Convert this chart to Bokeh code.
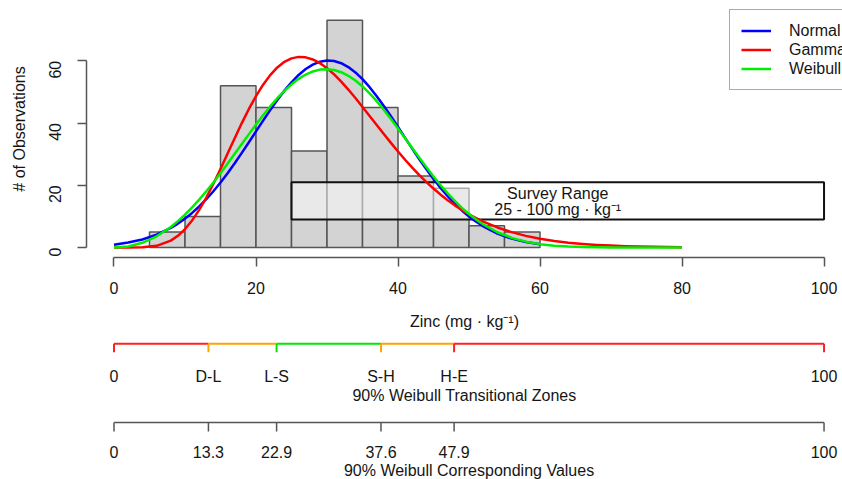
import math
from bokeh.plotting import figure
from bokeh.models import Range1d, FixedTicker, Legend, LegendItem
from bokeh.layouts import column
from bokeh.embed import file_html
from bokeh.resources import INLINE
from bokeh.core.properties import value

# ---------------- data ----------------
bin_edges = [5, 10, 15, 20, 25, 30, 35, 40, 45, 50, 55, 60]
counts = [5, 10, 52, 45, 31, 73, 45, 23, 19, 7, 5]

normal_x = [0, 2, 4, 6, 8, 9, 10, 11, 12, 13, 14, 15, 16, 17, 18, 19, 20,
            21, 22, 23, 24, 25, 26, 27, 28, 29, 30, 31, 32, 33, 34, 35, 36,
            37, 38, 39, 40, 41, 42, 43, 44, 45, 46, 47, 48, 49, 50, 51, 52,
            54, 56, 58, 60]
normal_y = [0.92, 1.58, 2.59, 4.12, 6.29, 7.68, 9.28, 11.11, 13.19, 15.51,
            18.07, 20.87, 23.88, 27.06, 30.40, 33.84, 37.32, 40.79, 44.17,
            47.40, 50.40, 53.10, 55.44, 57.35, 58.78, 59.70, 60.09, 59.92,
            59.22, 57.98, 56.25, 54.08, 51.52, 48.63, 45.48, 42.15, 38.72,
            35.23, 31.77, 28.38, 25.13, 22.05, 19.16, 16.50, 14.09, 11.91,
            9.98, 8.29, 6.82, 4.49, 2.85, 1.75, 1.03]

curve_x = [0, 2, 4, 6, 8, 9, 10, 11, 12, 13, 14, 15, 16, 17, 18, 19, 20,
           21, 22, 23, 24, 25, 26, 27, 28, 29, 30, 31, 32, 33, 34, 35, 36,
           37, 38, 39, 40, 41, 42, 43, 44, 45, 46, 47, 48, 49, 50, 51, 52,
           54, 56, 58, 60, 62, 64, 66, 68, 70, 72, 74, 76, 78, 80]
gamma_y = [0.0, 0.0, 0.06, 0.53, 2.20, 3.76, 5.92, 8.70, 12.10, 16.06,
           20.49, 25.25, 30.18, 35.13, 39.98, 44.52, 48.67, 52.33, 55.39,
           57.86, 59.66, 60.78, 61.25, 61.11, 60.43, 59.25, 57.62, 55.62,
           53.29, 50.75, 48.05, 45.17, 42.28, 39.35, 36.46, 33.62, 30.85,
           28.20, 25.67, 23.27, 21.02, 18.94, 16.98, 15.19, 13.55, 12.05,
           10.68, 9.45, 8.33, 6.44, 4.93, 3.73, 2.81, 2.10, 1.56, 1.15, 0.84,
           0.61, 0.44, 0.32, 0.23, 0.16, 0.12]
weibull_y = [0.0, 0.34, 1.51, 3.59, 6.61, 8.48, 10.57, 12.88, 15.38, 18.07,
             20.91, 23.89, 26.97, 30.11, 33.27, 36.43, 39.52, 42.50, 45.33,
             47.97, 50.34, 52.43, 54.19, 55.58, 56.58, 57.16, 57.31, 57.04,
             56.32, 55.18, 53.64, 51.76, 49.53, 47.01, 44.26, 41.31, 38.25,
             35.11, 31.95, 28.82, 25.76, 22.80, 20.01, 17.39, 14.96, 12.75,
             10.75, 8.98, 7.42, 4.90, 3.10, 1.88, 1.08, 0.59, 0.31, 0.15,
             0.07, 0.03, 0.01, 0.01, 0.0, 0.0, 0.0]

series_names = ["Normal", "Gamma", "Weibull"]

survey_low, survey_high = 25, 100
survey_band = (9, 21)
survey_text = ["Survey Range", "25 - 100 mg \u00b7 kg\u207b\u00b9"]

x_ticks = [0, 20, 40, 60, 80, 100]
y_ticks = [0, 20, 40, 60]

zone_breaks = [0, 13.3, 22.9, 37.6, 47.9, 100]
zone_labels = ["0", "D-L", "L-S", "S-H", "H-E", "100"]
zone_value_labels = ["0", "13.3", "22.9", "37.6", "47.9", "100"]

x_title = "Zinc (mg \u00b7 kg\u207b\u00b9)"
y_title = "# of Observations"
zones_title = "90% Weibull Transitional Zones"
values_title = "90% Weibull Corresponding Values"

# ---------------- styles ----------------
FONT = "Liberation Sans"
FS = "16px"
TXT = "#151515"
AXC = "#555555"
zone_colors = ["#FF2020", "#FFA500", "#00E600", "#FFA500", "#FF2020"]
tick_colors = zone_colors + [zone_colors[-1]]
curve_colors = ["#0000FF", "#FF0000", "#00EE00"]

xr = Range1d(-3.873, 102.6)


def style_axis(ax):
    ax.axis_line_color = AXC
    ax.axis_line_width = 1.5
    ax.major_tick_line_color = AXC
    ax.major_tick_line_width = 1.5
    ax.minor_tick_line_color = None
    ax.major_label_text_font = FONT
    ax.major_label_text_font_size = FS
    ax.major_label_text_color = TXT
    ax.axis_label_text_font = FONT
    ax.axis_label_text_font_size = FS
    ax.axis_label_text_font_style = "normal"
    ax.axis_label_text_color = TXT


# ---------------- main histogram figure ----------------
p1 = figure(width=842, height=340, x_range=xr, y_range=Range1d(-3.213, 79.37),
            output_backend="svg", toolbar_location=None,
            min_border=0, min_border_left=86, min_border_bottom=83,
            min_border_top=0, min_border_right=0, outline_line_color=None)
p1.grid.visible = False

p1.quad(left=bin_edges[:-1], right=bin_edges[1:], bottom=0, top=counts,
        fill_color="#D3D3D3", line_color=AXC, line_width=1.5)

p1.quad(left=[survey_low], right=[survey_high], bottom=[survey_band[0]],
        top=[survey_band[1]], fill_color="white", fill_alpha=0.5,
        line_color="#111111", line_width=2)

mid = (survey_low + survey_high) / 2
p1.text(x=[mid, mid], y=[17.3, 12.1], text=survey_text, text_align="center",
        text_baseline="middle", text_font=value(FONT), text_font_size=FS,
        text_color=TXT)

rn = p1.line(normal_x, normal_y, line_color=curve_colors[0], line_width=2.5,
             line_join="round")
rg = p1.line(curve_x, gamma_y, line_color=curve_colors[1], line_width=2.5,
             line_join="round")
rw = p1.line(curve_x, weibull_y, line_color=curve_colors[2], line_width=2.5,
             line_join="round")

xa = p1.xaxis[0]
style_axis(xa)
xa.bounds = (0, 100)
xa.ticker = FixedTicker(ticks=x_ticks)
xa.major_tick_out = 9
xa.major_tick_in = 0
xa.major_label_standoff = 15
xa.axis_label = x_title
xa.axis_label_standoff = 16

ya = p1.yaxis[0]
style_axis(ya)
ya.bounds = (0, 60)
ya.ticker = FixedTicker(ticks=y_ticks)
ya.major_tick_out = 9
ya.major_tick_in = 0
ya.major_label_standoff = 22
ya.major_label_orientation = math.pi / 2
ya.axis_label = y_title
ya.axis_label_standoff = 13

legend = Legend(items=[LegendItem(label=series_names[0], renderers=[rn]),
                       LegendItem(label=series_names[1], renderers=[rg]),
                       LegendItem(label=series_names[2], renderers=[rw])],
                location=(643, 167), orientation="vertical",
                label_text_font=FONT, label_text_font_size=FS,
                label_text_color=TXT, border_line_color=AXC,
                border_line_width=1.5, background_fill_color="white",
                background_fill_alpha=1.0, glyph_width=30, glyph_height=19,
                label_height=19, label_standoff=18, padding=11, spacing=0,
                margin=0)
p1.add_layout(legend)

# ---------------- transitional zones axis ----------------
p2 = figure(width=842, height=66, x_range=xr, y_range=Range1d(0, 13),
            output_backend="svg", toolbar_location=None, y_axis_type=None,
            min_border=0, min_border_left=86, min_border_bottom=53,
            min_border_top=0, min_border_right=0, outline_line_color=None)
p2.grid.visible = False
p2.segment(x0=zone_breaks[:-1], y0=9.5, x1=zone_breaks[1:], y1=9.5,
           line_color=zone_colors, line_width=2)
p2.segment(x0=zone_breaks, y0=9.5, x1=zone_breaks, y1=0,
           line_color=tick_colors, line_width=2)
xa2 = p2.xaxis[0]
style_axis(xa2)
xa2.axis_line_color = None
xa2.major_tick_line_color = None
xa2.major_tick_out = 0
xa2.major_tick_in = 0
xa2.ticker = FixedTicker(ticks=zone_breaks)
xa2.major_label_overrides = {b: l for b, l in zip(zone_breaks, zone_labels)}
xa2.major_label_standoff = 15
xa2.axis_label = zones_title
xa2.axis_label_standoff = -1

# ---------------- corresponding values axis ----------------
# frame covers the whole strip (pixel rows 406..479); y = 479 - pixel row
p3 = figure(width=842, height=73, x_range=xr, y_range=Range1d(0, 73),
            output_backend="svg", toolbar_location=None,
            x_axis_type=None, y_axis_type=None,
            min_border=0, min_border_left=86, min_border_bottom=0,
            min_border_top=0, min_border_right=0, outline_line_color=None)
p3.grid.visible = False
p3.segment(x0=[zone_breaks[0]], y0=57, x1=[zone_breaks[-1]], y1=57,
           line_color=AXC, line_width=1.5)
p3.segment(x0=zone_breaks, y0=57, x1=zone_breaks, y1=48,
           line_color=AXC, line_width=1.5)
p3.text(x=zone_breaks, y=27.5, text=zone_value_labels, text_align="center",
        text_baseline="middle", text_font=value(FONT), text_font_size=FS,
        text_color=TXT)
p3.text(x=[mid - 12.5], y=[9], text=[values_title], text_align="center",
        text_baseline="middle", text_font=value(FONT), text_font_size=FS,
        text_color=TXT)

layout = column(p1, p2, p3, spacing=0)
open("out.html", "w").write(file_html(layout, INLINE))
